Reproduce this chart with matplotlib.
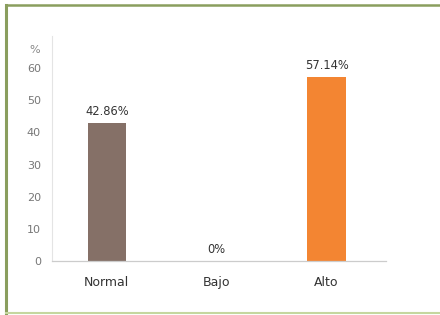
import matplotlib
matplotlib.use("Agg")
from matplotlib import pyplot as plt
from matplotlib.lines import Line2D

categories = ["Normal", "Bajo", "Alto"]
values = [42.86, 0.0, 57.14]
labels = ["42.86%", "0%", "57.14%"]
colors = ["#857067", "#857067", "#F38532"]
yticks = [0, 10, 20, 30, 40, 50, 60]

fig = plt.figure(figsize=(4.4, 3.15), dpi=100)
ax = fig.add_axes([0.118, 0.171, 0.759, 0.715])

x = range(len(categories))
bars = ax.bar(x, values, width=0.35, color=colors)

for b, lab in zip(bars, labels):
    ax.text(b.get_x() + b.get_width() / 2, b.get_height() + 1.5, lab,
            ha="center", va="bottom", fontsize=8.3, color="#333333")

ax.set_xlim(-0.5, 2.54)
ax.set_ylim(0, 70)
ax.set_xticks(list(x))
ax.set_xticklabels(categories, fontsize=9, color="#333333")
ax.set_yticks(yticks)
ax.set_yticklabels([str(t) for t in yticks], fontsize=8, color="#777777")
ax.tick_params(axis="both", length=0)
ax.tick_params(axis="x", pad=11)
ax.tick_params(axis="y", pad=8)
ax.text(-0.052, 65.5, "%", transform=ax.get_yaxis_transform(), ha="center",
        va="center", fontsize=8, color="#888888")

for s in ["top", "right"]:
    ax.spines[s].set_visible(False)
ax.spines["left"].set_color("#e4e4e4")
ax.spines["bottom"].set_color("#cccccc")
ax.spines["left"].set_linewidth(0.8)
ax.spines["bottom"].set_linewidth(0.9)

# green frame around the chart
fig.add_artist(Line2D([6 / 440, 1.0], [1 - 5 / 315] * 2, transform=fig.transFigure,
                      color="#8A9E5E", lw=1.8))
fig.add_artist(Line2D([6 / 440] * 2, [1 - 5 / 315, 1 - 313 / 315], transform=fig.transFigure,
                      color="#8A9E5E", lw=2.2))
fig.add_artist(Line2D([6 / 440, 1.0], [1 - 313 / 315] * 2, transform=fig.transFigure,
                      color="#C5D79F", lw=1.5))

fig.savefig("out.png", dpi=100)
